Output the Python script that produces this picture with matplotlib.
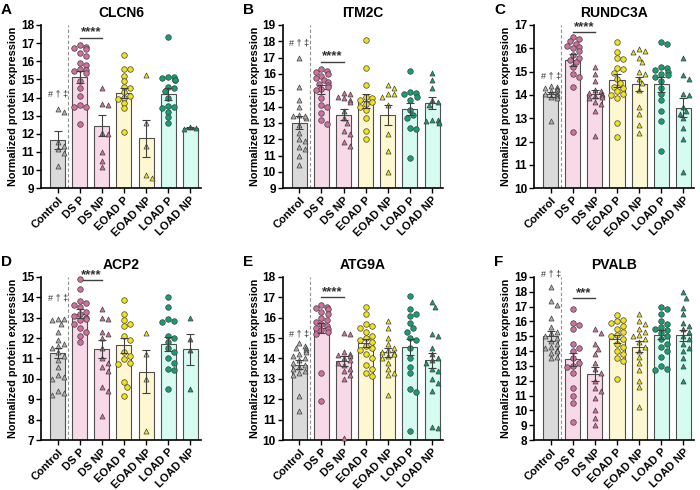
import numpy as np
import matplotlib
matplotlib.use('Agg')
import matplotlib.pyplot as plt

plt.rcParams['font.family'] = ['Liberation Sans', 'DejaVu Sans']

groups = ['Control', 'DS P', 'DS NP', 'EOAD P', 'EOAD NP', 'LOAD P', 'LOAD NP']

# A - CLCN6
clcn6_pts = [
    [13.2, 13.35, 11.55, 11.15, 10.95, 11.35, 10.2],
    [16.9, 16.8, 16.7, 16.75, 16.45, 16.3, 15.9, 15.8, 15.55, 15.5, 15.35, 15.45, 14.9, 14.5, 14.1, 13.6, 13.5, 13.45, 12.55],
    [14.5, 13.65, 13.6, 12.0, 12.05, 11.0, 10.5, 10.15],
    [16.35, 15.6, 15.55, 15.2, 14.9, 14.6, 14.5, 14.3, 14.1, 14.0, 13.9, 13.7, 13.4, 12.1],
    [15.25, 12.6, 11.3, 9.75, 9.55],
    [17.35, 15.15, 15.15, 15.1, 14.95, 14.95, 14.6, 14.55, 14.35, 14.0, 13.55, 13.5, 13.2, 13.4, 12.9, 12.6],
    [12.25, 12.35, 12.3],
]
clcn6_mean = [11.68, 15.15, 12.45, 14.25, 11.75, 14.2, 12.3]
clcn6_sem = [0.5, 0.33, 0.6, 0.28, 1.03, 0.33, 0.05]

# B - ITM2C
itm2c_pts = [
    [16.95, 15.2, 14.4, 14.0, 13.5, 13.4, 13.3, 13.45, 12.9, 12.4, 12.0, 11.9, 11.5, 11.4, 11.0, 10.4],
    [16.3, 16.2, 16.1, 16.0, 15.9, 15.75, 15.6, 15.5, 15.4, 15.3, 15.2, 15.1, 15.0, 14.5, 14.1, 14.0, 13.6, 13.2, 12.95],
    [14.85, 14.75, 14.6, 14.5, 14.4, 14.3, 13.7, 13.3, 13.0, 12.5, 12.3, 11.8, 11.6],
    [18.05, 16.35, 15.35, 14.6, 14.5, 14.4, 14.3, 14.15, 14.0, 13.8, 13.3, 12.5, 12.0],
    [15.35, 15.15, 14.8, 14.75, 14.6, 14.1, 12.3, 11.25, 10.0],
    [16.15, 14.9, 14.85, 14.8, 14.6, 14.4, 13.8, 13.5, 13.3, 12.7, 12.6, 10.85],
    [16.05, 15.6, 15.15, 14.4, 14.3, 14.1, 13.2, 13.15, 13.1, 13.05, 13.0],
]
itm2c_mean = [13.0, 15.05, 13.5, 14.35, 13.5, 13.85, 14.2]
itm2c_sem = [0.4, 0.27, 0.33, 0.42, 0.6, 0.38, 0.37]

# C - RUNDC3A
rundc3a_pts = [
    [14.4, 14.35, 14.3, 14.25, 14.2, 14.15, 14.1, 14.05, 14.0, 13.95, 13.9, 13.85, 12.9],
    [16.5, 16.4, 16.3, 16.2, 16.1, 16.05, 16.0, 15.9, 15.7, 15.6, 15.5, 15.4, 15.2, 14.9, 14.75, 14.35, 12.4],
    [15.2, 14.9, 14.6, 14.2, 14.15, 14.1, 14.05, 14.0, 13.95, 13.9, 13.85, 13.7, 13.6, 13.3, 12.25],
    [16.25, 15.85, 15.6, 15.55, 15.15, 15.1, 14.95, 14.7, 14.5, 14.35, 14.3, 14.15, 14.05, 14.0, 13.85, 12.8, 12.2],
    [15.95, 15.9, 15.85, 15.6, 15.4, 15.0, 14.9, 14.7, 14.5, 14.2, 13.5, 13.2, 12.7, 12.35],
    [16.25, 16.2, 15.2, 15.15, 15.05, 15.0, 14.9, 14.85, 14.75, 14.6, 14.3, 14.05, 13.8, 13.3, 12.9, 11.6],
    [15.6, 14.85, 14.7, 14.05, 14.0, 13.5, 13.3, 13.2, 13.0, 12.6, 12.1, 10.7],
]
rundc3a_mean = [14.02, 15.5, 14.02, 14.62, 14.45, 14.45, 13.45]
rundc3a_sem = [0.1, 0.25, 0.17, 0.28, 0.3, 0.33, 0.4]

# D - ACP2
acp2_pts = [
    [12.95, 12.95, 12.9, 12.7, 12.3, 11.9, 11.7, 11.6, 11.5, 11.3, 11.1, 10.9, 10.6, 10.2, 10.1, 10.0, 9.4, 9.3, 9.2],
    [14.9, 14.4, 13.8, 13.7, 13.6, 13.5, 13.3, 13.2, 13.1, 13.0, 12.95, 12.9, 12.7, 12.5, 12.3, 12.1, 11.8],
    [13.4, 13.0, 12.95, 12.3, 12.2, 12.0, 11.5, 11.0, 10.8, 10.6, 10.4, 9.6, 9.4, 8.2],
    [13.85, 13.2, 12.9, 12.7, 12.6, 12.1, 11.9, 11.3, 11.1, 10.95, 10.8, 10.75, 9.85, 9.6, 9.15],
    [12.25, 11.2, 10.0, 7.45],
    [14.0, 13.5, 12.95, 12.85, 12.8, 12.1, 12.0, 11.8, 11.5, 11.3, 11.0, 10.8, 10.5, 10.45, 9.5],
    [13.0, 11.95, 11.4, 9.5],
]
acp2_mean = [11.25, 13.2, 11.45, 11.65, 10.35, 11.7, 11.45]
acp2_sem = [0.25, 0.2, 0.45, 0.37, 1.05, 0.35, 0.75]

# E - ATG9A
atg9a_pts = [
    [14.75, 14.6, 14.5, 14.5, 14.4, 14.3, 14.2, 14.1, 14.0, 13.9, 13.8, 13.7, 13.6, 13.5, 13.4, 13.3, 13.2, 12.15, 11.4],
    [16.6, 16.5, 16.45, 16.4, 16.3, 16.2, 16.0, 15.9, 15.8, 15.7, 15.6, 15.5, 15.45, 15.4, 15.3, 15.2, 13.3, 11.9],
    [15.25, 15.2, 14.3, 14.2, 14.15, 14.1, 14.0, 13.9, 13.8, 13.7, 13.5, 13.4, 13.2, 13.0, 10.1],
    [16.5, 16.2, 15.7, 15.6, 15.5, 15.3, 15.1, 15.0, 14.9, 14.8, 14.6, 14.5, 14.4, 14.2, 14.0, 13.7, 13.5, 13.3, 13.15],
    [15.85, 15.5, 15.0, 14.7, 14.5, 14.4, 14.3, 14.25, 14.2, 14.1, 14.0, 13.8, 13.5, 13.3, 13.2, 12.2],
    [17.05, 16.4, 16.2, 16.1, 15.75, 15.5, 15.3, 15.0, 14.9, 14.5, 14.0, 13.6, 13.3, 12.5, 12.35, 10.45],
    [16.75, 16.5, 15.2, 15.1, 14.5, 14.2, 14.0, 13.9, 13.8, 13.5, 13.4, 13.0, 12.8, 12.4, 10.65, 10.6],
]
atg9a_mean = [13.7, 15.5, 13.88, 14.75, 14.3, 14.55, 13.9]
atg9a_sem = [0.2, 0.25, 0.25, 0.2, 0.22, 0.38, 0.37]

# F - PVALB
pvalb_pts = [
    [18.3, 17.4, 17.1, 16.2, 15.6, 15.3, 15.2, 15.0, 14.9, 14.7, 14.5, 14.3, 14.2, 14.1, 14.0, 13.9, 13.6, 13.5],
    [16.85, 15.9, 15.75, 15.5, 14.5, 14.2, 14.0, 13.5, 13.2, 13.0, 12.9, 12.5, 11.5, 11.0, 10.5, 9.2],
    [15.5, 15.2, 14.5, 14.15, 13.8, 13.2, 12.8, 12.5, 12.0, 11.5, 11.3, 10.8, 10.0, 9.5, 9.0],
    [16.4, 16.1, 16.0, 15.9, 15.7, 15.5, 15.3, 15.1, 15.0, 14.8, 14.5, 14.3, 14.0, 13.8, 13.5, 13.3, 12.1],
    [16.5, 16.0, 15.8, 15.5, 15.3, 15.1, 15.0, 14.8, 14.6, 14.3, 14.0, 13.6, 13.2, 12.7, 12.0, 11.6, 10.2],
    [17.0, 16.8, 16.5, 16.0, 15.8, 15.6, 15.5, 15.4, 15.2, 15.0, 14.8, 14.5, 14.3, 14.0, 13.6, 13.0, 12.8, 12.7],
    [17.95, 17.6, 16.9, 16.5, 15.9, 15.7, 15.5, 15.3, 15.0, 14.8, 14.5, 14.2, 14.0, 13.5, 13.0, 12.0],
]
pvalb_mean = [15.0, 13.45, 12.45, 14.8, 14.3, 15.1, 15.05]
pvalb_sem = [0.33, 0.45, 0.47, 0.27, 0.35, 0.3, 0.35]

bar_colors = ['#dadada', '#f7d9e8', '#f7d9e8', '#fdf8d2', '#fdf8d2', '#d6fcf2', '#d6fcf2']
dot_colors = ['#b0b0b0', '#d0709f', '#d0709f', '#f2e21c', '#f2e21c', '#13a070', '#13a070']
markers = ['^', 'o', '^', 'o', '^', 'o', '^']

panels = [
    ('A', 'CLCN6', clcn6_pts, clcn6_mean, clcn6_sem, (9, 18), 13.95, 17.3, '****'),
    ('B', 'ITM2C', itm2c_pts, itm2c_mean, itm2c_sem, (9, 19), 17.6, 16.75, '****'),
    ('C', 'RUNDC3A', rundc3a_pts, rundc3a_mean, rundc3a_sem, (10, 17), 14.6, 16.7, '****'),
    ('D', 'ACP2', acp2_pts, acp2_mean, acp2_sem, (7, 15), 13.75, 14.85, '****'),
    ('E', 'ATG9A', atg9a_pts, atg9a_mean, atg9a_sem, (10, 18), 15.0, 17.0, '****'),
    ('F', 'PVALB', pvalb_pts, pvalb_mean, pvalb_sem, (8, 19), 18.9, 17.55, '***'),
]

lefts = [0.0586, 0.404, 0.763]
bottoms = [0.616, 0.102]
W, H = 0.229, 0.333
XLIM = (-0.75, 6.5)


def swarm(vals, ypx, xpx, diam=5.4, maxoff=0.3):
    # simple beeswarm, offsets in data x units
    order = np.argsort(vals)[::-1]
    placed = []
    offs = np.zeros(len(vals))
    step = diam * 0.55 / xpx
    for i in order:
        y = vals[i] * ypx
        k = 0
        while True:
            cand = 0.0 if k == 0 else ((k + 1) // 2) * step * (1 if k % 2 else -1)
            ok = True
            for (px, py) in placed:
                if np.hypot(cand * xpx - px, y - py) < diam:
                    ok = False
                    break
            if ok or abs(cand) > maxoff:
                if abs(cand) > maxoff:
                    cand = np.clip(cand, -maxoff, maxoff)
                offs[i] = cand
                placed.append((cand * xpx, y))
                break
            k += 1
    return offs


fig = plt.figure(figsize=(7, 4.9), dpi=100)

for n, (letter, title, pts, means, sems, ylim, dag_y, sig_y, stars) in enumerate(panels):
    col, row = n % 3, n // 3
    ax = fig.add_axes([lefts[col], bottoms[row], W, H])
    x = np.arange(len(groups))
    ax.bar(x, means, width=0.68, color=bar_colors, edgecolor='#505050', linewidth=0.8, zorder=1)
    xpx = W * 700 / (XLIM[1] - XLIM[0])
    ypx = H * 490 / (ylim[1] - ylim[0])
    for i, vals in enumerate(pts):
        vals = np.array(vals)
        offs = swarm(vals, ypx, xpx)
        ax.scatter(x[i] + offs, vals, s=16 if markers[i] == 'o' else 13, marker=markers[i],
                   color=dot_colors[i], edgecolor='#404040', linewidth=0.5, zorder=3, clip_on=False)
    ax.errorbar(x, means, yerr=sems, fmt='none', ecolor='#404040', elinewidth=0.8,
                capsize=3, capthick=0.8, zorder=4)
    ax.axvline(0.47, color='#909090', linestyle=(0, (3, 2)), linewidth=0.8, zorder=0)
    ax.plot([1, 2], [sig_y, sig_y], color='#404040', linewidth=1.0, clip_on=False)
    ax.text(1.5, sig_y - (ylim[1] - ylim[0]) * 0.005, stars, ha='center', va='bottom',
            fontsize=9.5, fontweight='bold', color='#303030')
    ax.text(0, dag_y, '# \u2020 \u2021', ha='center', va='bottom', fontsize=6.5, color='#303030')

    ax.set_xlim(*XLIM)
    ax.set_ylim(*ylim)
    ax.set_yticks(np.arange(ylim[0], ylim[1] + 1))
    ax.set_xticks(x)
    ax.set_xticklabels(groups, rotation=45, ha='right', rotation_mode='anchor',
                       fontsize=8, fontweight='bold')
    for lab in ax.get_yticklabels():
        lab.set_fontweight('bold')
    ax.tick_params(axis='y', labelsize=8.5, length=3.5, width=1.0, pad=1.5)
    ax.tick_params(axis='x', length=3.5, width=1.0, pad=1.5)
    ax.spines['top'].set_visible(False)
    ax.spines['right'].set_visible(False)
    ax.spines['left'].set_linewidth(1.2)
    ax.spines['bottom'].set_linewidth(1.2)
    ax.set_ylabel('Normalized protein expression', fontsize=7.8, fontweight='bold', labelpad=2)
    ax.set_title(title, fontsize=10, fontweight='bold', pad=6)
    fig.text(lefts[col] - 0.057, bottoms[row] + H + 0.045, letter,
             fontsize=11, fontweight='bold', va='top')

fig.savefig('out.png', dpi=100)
